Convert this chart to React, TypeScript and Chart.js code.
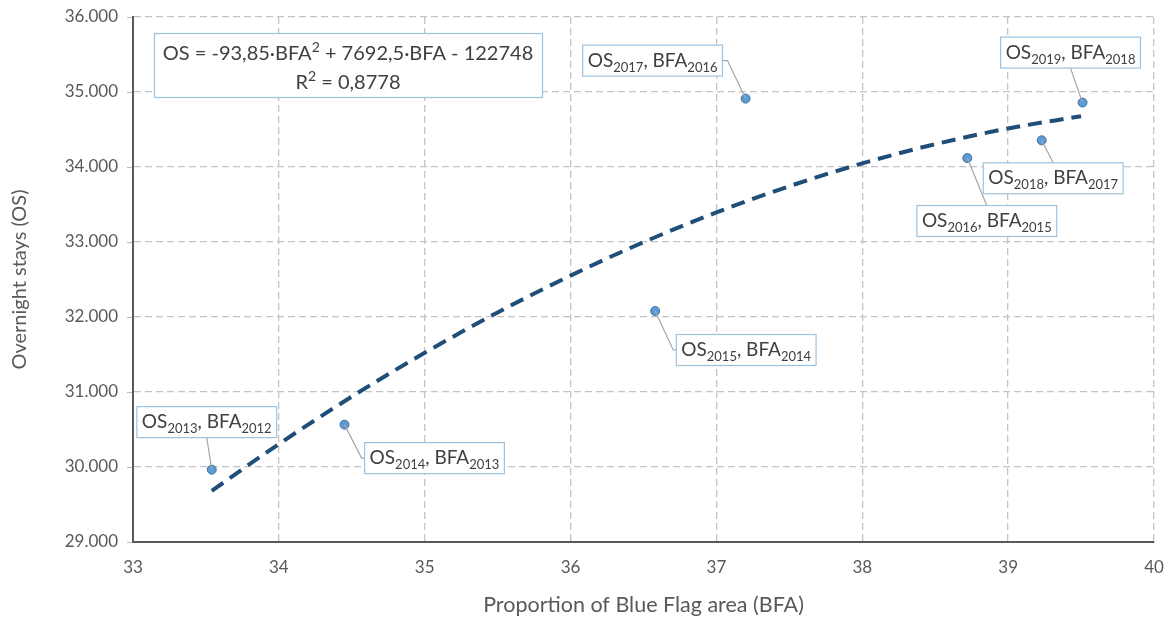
import { useEffect, useRef } from 'react';
import { Chart, registerables } from 'chart.js';

Chart.register(...registerables);

// ---- data ----
const osYears = ['2013', '2014', '2015', '2016', '2017', '2018', '2019'];
const bfaYears = ['2012', '2013', '2014', '2015', '2016', '2017', '2018'];
const bfaValues = [33.54, 34.45, 36.58, 38.72, 37.2, 39.23, 39.51];
const osValues = [29965, 30565, 32080, 34120, 34912, 34356, 34859];

// trendline readings (polynomial trend, order 2)
const trendX = [33.54, 34, 34.5, 35, 35.5, 36, 36.5, 37, 37.5, 38, 38.5, 39, 39.5];
const trendY = [29683, 30306, 30938, 31523, 32061, 32552, 32997, 33394, 33744, 34048, 34304, 34514, 34677];

const xMin = 33;
const xMax = 40;
const yMin = 29000;
const yMax = 36000;

// equation text split around the superscripts
const equationLine1: { t: string; sup?: boolean }[] = [
  { t: 'OS = -93,85·BFA' },
  { t: '2', sup: true },
  { t: ' + 7692,5·BFA - 122748' },
];
const equationLine2: { t: string; sup?: boolean }[] = [{ t: 'R' }, { t: '2', sup: true }, { t: ' = 0,8778' }];
const xTitle = 'Proportion of Blue Flag area (BFA)';
const yTitle = 'Overnight stays (OS)';

// label box offsets (box centre relative to point, px)
const labelOffsets: [number, number][] = [
  [-5, -47.5],
  [90, 33.5],
  [91, 39],
  [19.5, 63],
  [-93, -38],
  [11.5, 38],
  [-12, -50],
];

const FONT = 'Lato, "Open Sans", sans-serif';
const TEXT = '#404040';
const AXIS_TEXT = '#595959';
const BOX_BORDER = '#9cc2de';

function fmtThousands(v: number): string {
  const s = Math.round(v).toString();
  return s.replace(/\B(?=(\d{3})+(?!\d))/g, '.');
}

type Part = { t: string; sub?: boolean; sup?: boolean };

function drawRich(ctx: CanvasRenderingContext2D, parts: Part[], cx: number, baseY: number, size: number, smallSize: number) {
  const widths = parts.map((p) => {
    ctx.font = `${p.sub || p.sup ? smallSize : size}px ${FONT}`;
    return ctx.measureText(p.t).width;
  });
  const total = widths.reduce((a, b) => a + b, 0);
  let x = cx - total / 2;
  ctx.textAlign = 'left';
  ctx.textBaseline = 'alphabetic';
  ctx.fillStyle = TEXT;
  parts.forEach((p, i) => {
    ctx.font = `${p.sub || p.sup ? smallSize : size}px ${FONT}`;
    const dy = p.sub ? 5 : p.sup ? -8 : 0;
    ctx.fillText(p.t, x, baseY + dy);
    x += widths[i];
  });
  return total;
}

const annotationPlugin = {
  id: 'annotations',
  afterDraw(chart: any) {
    const ctx: CanvasRenderingContext2D = chart.ctx;
    const ys = chart.scales.y;
    const area = chart.chartArea;
    // small tick marks left of the y axis
    ctx.save();
    ctx.strokeStyle = '#bfbfbf';
    ctx.lineWidth = 1.2;
    ys.ticks.forEach((t: any) => {
      const y = Math.round(ys.getPixelForValue(t.value)) + 0.5;
      ctx.beginPath();
      ctx.moveTo(area.left - 6, y);
      ctx.lineTo(area.left - 1, y);
      ctx.stroke();
    });
    ctx.restore();
  },
  afterDatasetsDraw(chart: any) {
    const ctx: CanvasRenderingContext2D = chart.ctx;
    const xs = chart.scales.x;
    const ys = chart.scales.y;
    const area = chart.chartArea;
    ctx.save();

    // equation box
    {
      const bx = area.left + 21;
      const by = area.top + 16;
      const bw = 388;
      const bh = 64;
      ctx.fillStyle = '#ffffff';
      ctx.fillRect(bx, by, bw, bh);
      ctx.strokeStyle = BOX_BORDER;
      ctx.lineWidth = 1.2;
      ctx.strokeRect(bx + 0.5, by + 0.5, bw, bh);
      drawRich(ctx, equationLine1, bx + bw / 2, by + 27, 20, 14);
      drawRich(ctx, equationLine2, bx + bw / 2, by + 56, 20, 14);
    }

    // data labels
    for (let i = 0; i < bfaValues.length; i++) {
      const px = xs.getPixelForValue(bfaValues[i]);
      const py = ys.getPixelForValue(osValues[i]);
      const parts: Part[] = [
        { t: 'OS' },
        { t: osYears[i], sub: true },
        { t: ', BFA' },
        { t: bfaYears[i], sub: true },
      ];
      let tw = 0;
      parts.forEach((p) => {
        ctx.font = `${p.sub ? 13 : 19}px ${FONT}`;
        tw += ctx.measureText(p.t).width;
      });
      const bw = tw + 10;
      const bh = 31;
      const cx = px + labelOffsets[i][0];
      const cy = py + labelOffsets[i][1];
      const left = cx - bw / 2;
      const right = cx + bw / 2;
      const top = cy - bh / 2;
      const bottom = cy + bh / 2;

      // leader line
      ctx.strokeStyle = '#a6a6a6';
      ctx.lineWidth = 1.2;
      ctx.setLineDash([]);
      ctx.beginPath();
      ctx.moveTo(px, py);
      if (px < left) {
        ctx.lineTo(left - 3, cy);
        ctx.lineTo(left, cy);
      } else if (px > right) {
        ctx.lineTo(right + 5, cy);
        ctx.lineTo(right, cy);
      } else if (py > bottom) {
        ctx.lineTo(cx, bottom);
      } else {
        ctx.lineTo(cx, top);
      }
      ctx.stroke();

      ctx.fillStyle = '#ffffff';
      ctx.fillRect(left, top, bw, bh);
      ctx.strokeStyle = BOX_BORDER;
      ctx.lineWidth = 1.2;
      ctx.strokeRect(left, top, bw, bh);
      drawRich(ctx, parts, cx, cy + 6, 19, 13);
    }
    ctx.restore();
  },
};

export default function App() {
  const ref = useRef<HTMLCanvasElement | null>(null);

  useEffect(() => {
    if (!ref.current) return;
    const chart = new Chart(ref.current, {
      type: 'scatter',
      data: {
        datasets: [
          {
            label: 'OS vs BFA',
            data: bfaValues.map((x, i) => ({ x, y: osValues[i] })),
            pointRadius: 4.5,
            pointBackgroundColor: '#5b9bd5',
            pointBorderColor: '#41719c',
            pointBorderWidth: 1,
            showLine: false,
            order: 0,
          },
          {
            type: 'line',
            label: 'Trend',
            data: trendX.map((x, i) => ({ x, y: trendY[i] })),
            borderColor: '#1f4e79',
            borderWidth: 4,
            borderDash: [14, 8],
            pointRadius: 0,
            fill: false,
            cubicInterpolationMode: 'monotone',
            order: 1,
          } as any,
        ],
      },
      options: {
        responsive: false,
        animation: false,
        maintainAspectRatio: false,
        layout: { padding: { left: 8, top: 17, right: 11, bottom: 0 } },
        plugins: {
          legend: { display: false },
          tooltip: { enabled: false },
        },
        scales: {
          x: {
            type: 'linear',
            min: xMin,
            max: xMax,
            grid: { color: '#c4c4c4', lineWidth: 1.3, drawTicks: true, tickLength: 15, tickColor: 'rgba(0,0,0,0)' },
            border: { display: true, color: '#595959', width: 2, dash: [7, 4] },
            ticks: {
              stepSize: 1,
              padding: 0,
              color: AXIS_TEXT,
              font: { family: FONT, size: 17 },
            },
            title: {
              display: true,
              text: xTitle,
              color: AXIS_TEXT,
              font: { family: FONT, size: 21.5 },
              padding: { top: 0, bottom: 2 },
            },
            afterFit: (scale: any) => {
              scale.height = 78;
            },
          },
          y: {
            type: 'linear',
            min: yMin,
            max: yMax,
            grid: { color: '#c4c4c4', lineWidth: 1.3, drawTicks: true, tickLength: 15, tickColor: 'rgba(0,0,0,0)' },
            border: { display: true, color: '#595959', width: 2, dash: [7, 4] },
            ticks: {
              stepSize: 1000,
              padding: 0,
              color: AXIS_TEXT,
              font: { family: FONT, size: 17 },
              callback: (v: any) => fmtThousands(Number(v)),
            },
            title: {
              display: true,
              text: yTitle,
              color: AXIS_TEXT,
              font: { family: FONT, size: 20 },
              padding: { top: 0, bottom: 0 },
            },
            afterFit: (scale: any) => {
              scale.width = 125;
            },
          },
        },
      },
      plugins: [annotationPlugin],
    });
    return () => chart.destroy();
  }, []);

  return (
    <div style={{ position: 'absolute', left: 0, top: 0, width: 1165, height: 620, background: '#ffffff' }}>
      <canvas ref={ref} width={1165} height={620} />
    </div>
  );
}
